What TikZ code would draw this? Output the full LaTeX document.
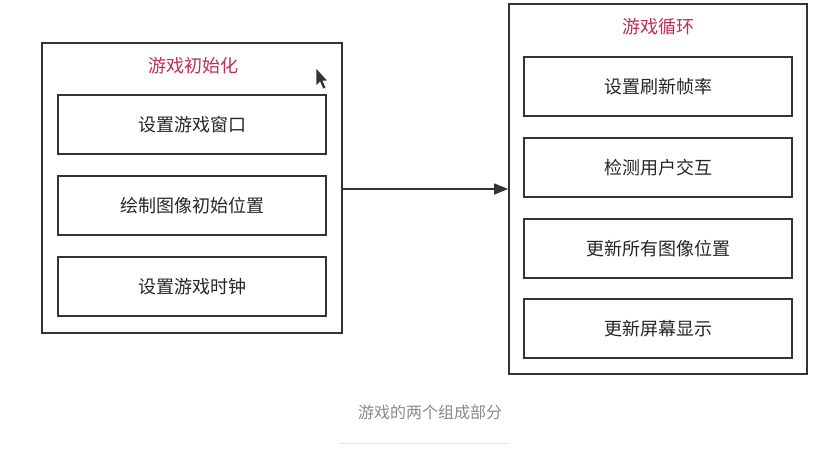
\documentclass[tikz,border=0pt]{standalone}
\usepackage{fontspec}
\setmainfont{Noto Sans CJK SC}
\usetikzlibrary{arrows.meta}
\definecolor{titlered}{HTML}{B8305A}
\definecolor{boxgray}{HTML}{333333}
\definecolor{capgray}{HTML}{8A8A8A}
\tikzset{
  outerbox/.style={draw=boxgray, line width=1.8pt, fill=white},
  innerbox/.style={draw=boxgray, line width=1.4pt, fill=white, minimum width=268pt, minimum height=59pt, inner sep=0pt, font=\fontsize{18}{20}\selectfont, text=black!85},
  titletext/.style={font=\fontsize{18}{20}\selectfont, text=titlered},
  flow/.style={draw=boxgray, line width=1.4pt, -{Triangle[length=14pt,width=11pt]}}
}
\begin{document}
\begin{tikzpicture}[x=1pt,y=-1pt]
\useasboundingbox[fill=white] (0,0) rectangle (840,454);
% left group
\node[outerbox, minimum width=300pt, minimum height=290pt, inner sep=0pt] (init) at (192,188) {};
\node[titletext] (initT) at (193,66) {游戏初始化};
\node[innerbox] (i1) at (192,124.5) {设置游戏窗口};
\node[innerbox] (i2) at (192,205.5) {绘制图像初始位置};
\node[innerbox] (i3) at (192,286.5) {设置游戏时钟};
% right group
\node[outerbox, minimum width=298pt, minimum height=370pt, inner sep=0pt] (loop) at (658,189) {};
\node[titletext] (loopT) at (658,27) {游戏循环};
\node[innerbox] (l1) at (658,86.5) {设置刷新帧率};
\node[innerbox] (l2) at (658,167.5) {检测用户交互};
\node[innerbox] (l3) at (658,248.5) {更新所有图像位置};
\node[innerbox] (l4) at (658,328.5) {更新屏幕显示};
% connector
\draw[flow] (init.east |- 0,189) -- (loop.west |- 0,189);
% cursor
\fill[black!80, draw=white, line width=0.5pt] (316,68) -- (316,86) -- (320,82) -- (323,89) -- (326,88) -- (323,81) -- (328,81) -- cycle;
% caption
\node[font=\fontsize{16}{18}\selectfont, text=capgray] (cap) at (430,412) {游戏的两个组成部分};
\coordinate (ulA) at (340,443);
\coordinate (ulB) at (510,443);
\draw[black!10, line width=0.8pt] (ulA) -- (ulB);
\end{tikzpicture}
\end{document}
